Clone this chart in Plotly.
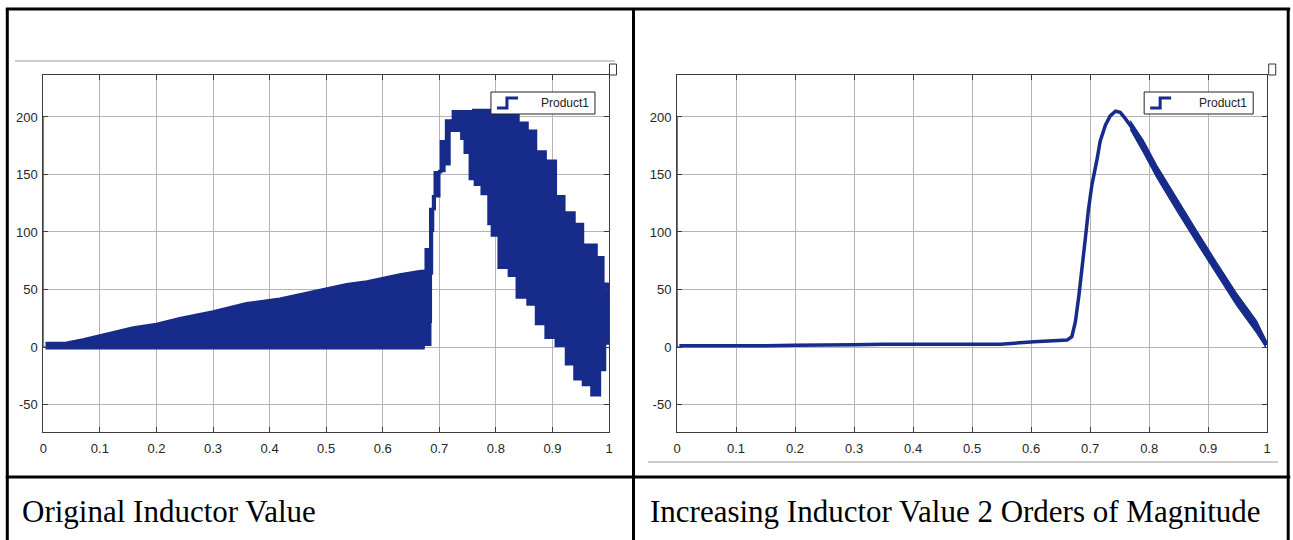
import plotly.graph_objects as go

x_ticks = [0, 0.1, 0.2, 0.3, 0.4, 0.5, 0.6, 0.7, 0.8, 0.9, 1]
x_labels = ["0", "0.1", "0.2", "0.3", "0.4", "0.5", "0.6", "0.7", "0.8", "0.9", "1"]
y_ticks = [-50, 0, 50, 100, 150, 200]
y_labels = ["-50", "0", "50", "100", "150", "200"]

# start-up transient at t = 0 (same in both runs)
init_t = [0, 0, 0.004]
init_v = [200, 0, 0]

# original inductor value: envelope of the switching ripple, before the jump
ramp_t = [0.004, 0.041, 0.070, 0.100, 0.159, 0.200, 0.241, 0.300, 0.359, 0.418,
          0.477, 0.536, 0.572, 0.630, 0.667, 0.672]
ramp_hi = [3.4, 3.7, 6.5, 10, 17, 20, 25, 31, 38, 42,
           48, 54.5, 57, 63, 66, 66]
ramp_lo = [-1, -1, -1, -1, -1, -1, -1, -1, -1, -1,
           -1, -1, -1, -1, -1, -1]

# ... and after the jump
orig_hi_t = [0.672, 0.676, 0.684, 0.692, 0.703, 0.712, 0.724, 0.760, 0.793, 0.823,
             0.840, 0.856, 0.871, 0.888, 0.906, 0.921, 0.939, 0.954, 0.978, 0.990,
             1.0]
orig_hi = [66, 85, 120, 152, 179, 197, 205, 206, 205, 202,
           195, 188, 170, 162, 131, 117, 107, 89, 78, 55,
           50]
orig_lo_t = [0.672, 0.684, 0.685, 0.687, 0.689, 0.700, 0.709, 0.718, 0.739, 0.745,
             0.754, 0.763, 0.775, 0.787, 0.793, 0.805, 0.823, 0.837, 0.856, 0.871,
             0.888, 0.906, 0.924, 0.939, 0.954, 0.969, 0.984, 0.993, 1.0]
orig_lo = [-1, 2, 22, 64, 101, 131, 153, 159, 188, 181,
           169, 146, 141, 133, 107, 97, 69, 62, 43, 37,
           20, 8, 1, -15, -28, -33, -42, -20, 3]

# inductor x100: smooth response
new_t = [0.004, 0.05, 0.10, 0.15, 0.20, 0.25, 0.30, 0.35, 0.40, 0.45,
         0.50, 0.548, 0.605, 0.64, 0.661, 0.669, 0.675, 0.681, 0.686, 0.692,
         0.697, 0.703, 0.712, 0.717, 0.726, 0.734, 0.743, 0.751, 0.759, 0.768,
         0.779, 0.790, 0.802, 0.813, 0.830, 0.847, 0.864, 0.881, 0.897, 0.914,
         0.931, 0.948, 0.965, 0.982, 0.993, 0.999, 1.0]
new_v = [1, 1, 0.5, 1, 1.5, 1.5, 2, 2.5, 2.5, 3,
         3, 2.5, 4.5, 5, 6, 9, 22, 45, 71, 95,
         119, 141, 164, 179, 193, 201, 205, 204, 199, 193,
         185, 175, 164, 153, 138, 124, 109, 96, 83, 69,
         56, 42, 29, 18, 9, 3, 2]
# ripple band on the falling edge
rip_t = [0.768, 0.790, 0.813, 0.847, 0.881, 0.914, 0.948, 0.982, 0.997]
rip_hi = [197, 180, 158, 129, 101, 74, 47, 23, 7]
rip_lo = [189, 169, 147, 118, 90, 63, 36, 12, 0]

captions = ["Original Inductor Value", "Increasing Inductor Value 2 Orders of Magnitude"]
legend_name = "Product1"

BLUE = "#172B8A"
W, H = 1293, 540
SQUEEZE = 0.9935  # the capture narrows the page slightly around its centre


def px(x):
    return (W / 2 + (x - W / 2) / SQUEEZE) / W


def py(y):
    return 1 - y / H


fig = go.Figure()

# left panel
fig.add_trace(go.Scatter(x=ramp_t + ramp_t[::-1], y=ramp_hi + ramp_lo[::-1],
                         fill="toself", fillcolor=BLUE, mode="lines",
                         line=dict(color=BLUE, width=2.5), xaxis="x", yaxis="y"))
fig.add_trace(go.Scatter(x=orig_hi_t + orig_lo_t[::-1], y=orig_hi + orig_lo[::-1],
                         fill="toself", fillcolor=BLUE, mode="lines",
                         line=dict(color=BLUE, width=2.5, shape="hv"), xaxis="x", yaxis="y"))
fig.add_trace(go.Scatter(x=init_t, y=init_v, mode="lines",
                         line=dict(color="#2444b4", width=1.5), xaxis="x", yaxis="y"))

# right panel
fig.add_trace(go.Scatter(x=rip_t + rip_t[::-1], y=rip_hi + rip_lo[::-1],
                         fill="toself", fillcolor=BLUE, mode="lines",
                         line=dict(color=BLUE, width=1), xaxis="x2", yaxis="y2"))
fig.add_trace(go.Scatter(x=new_t, y=new_v, mode="lines",
                         line=dict(color=BLUE, width=3.5), xaxis="x2", yaxis="y2"))
fig.add_trace(go.Scatter(x=init_t, y=init_v, mode="lines",
                         line=dict(color="#2444b4", width=1.5), xaxis="x2", yaxis="y2"))

tick_font = dict(family="Liberation Sans Narrow, Liberation Sans, Arial", size=13, color="#262626")
axis_common = dict(showgrid=True, gridcolor="#b4b4b4", gridwidth=1, zeroline=False,
                   showline=True, linecolor="#3c3c3c", linewidth=1, mirror="ticks",
                   ticks="inside", ticklen=5, tickcolor="#3c3c3c", tickfont=tick_font)
y_dom = [py(432), py(75)]

fig.update_layout(
    width=W, height=H, showlegend=False,
    paper_bgcolor="white", plot_bgcolor="white",
    margin=dict(l=0, r=0, t=0, b=0),
    xaxis=dict(domain=[px(43.5), px(609)], range=[0, 1], anchor="y",
               tickvals=x_ticks, ticktext=x_labels, ticklabelstandoff=4, **axis_common),
    yaxis=dict(domain=y_dom, range=[-73.9, 236.5], anchor="x",
               tickvals=y_ticks, ticktext=y_labels, ticklabelstandoff=2, **axis_common),
    xaxis2=dict(domain=[px(677), px(1267)], range=[0, 1], anchor="y2",
                tickvals=x_ticks, ticktext=x_labels, ticklabelstandoff=4, **axis_common),
    yaxis2=dict(domain=y_dom, range=[-73.9, 236.5], anchor="x2",
                tickvals=y_ticks, ticktext=y_labels, ticklabelstandoff=2, **axis_common),
)

shapes = []
# table borders
for x0, y0, x1, y1 in [(6, 9, 1290, 9), (7.5, 9, 7.5, 540), (633.5, 9, 633.5, 540),
                       (1288, 9, 1288, 540), (6, 477, 1290, 477)]:
    shapes.append(dict(type="line", xref="paper", yref="paper",
                       x0=px(x0), y0=py(y0), x1=px(x1), y1=py(y1),
                       line=dict(color="black", width=3)))
# thin grey rules from the scope windows
shapes.append(dict(type="line", xref="paper", yref="paper", x0=px(15), x1=px(615),
                   y0=py(61), y1=py(61), line=dict(color="#9a9a9a", width=1)))
shapes.append(dict(type="line", xref="paper", yref="paper", x0=px(648), x1=px(1278),
                   y0=py(462), y1=py(462), line=dict(color="#9a9a9a", width=1)))
# little scope-window buttons
for bx in (609.5, 1268.5):
    shapes.append(dict(type="rect", xref="paper", yref="paper", x0=px(bx), x1=px(bx + 7),
                       y0=py(75), y1=py(64), line=dict(color="#333", width=1),
                       fillcolor="white"))

annotations = []
# legends drawn like the scope legend (step icon)
for lx0, lx1 in ((491, 595), (1144, 1253)):
    shapes.append(dict(type="rect", xref="paper", yref="paper", x0=px(lx0), x1=px(lx1),
                       y0=py(114), y1=py(92), line=dict(color="#222", width=1),
                       fillcolor="white"))
    ix = lx0 + 6
    path = "M {} {} L {} {} L {} {} L {} {}".format(
        px(ix), py(108), px(ix + 10), py(108), px(ix + 10), py(98), px(ix + 21), py(98))
    shapes.append(dict(type="path", xref="paper", yref="paper", path=path,
                       line=dict(color=BLUE, width=3)))
    annotations.append(dict(x=px(lx1 - 4), y=py(103.5), xref="paper", yref="paper",
                            text=legend_name, showarrow=False, xanchor="right",
                            yanchor="middle",
                            font=dict(family="Liberation Sans Narrow, Liberation Sans, Arial",
                                      size=12, color="#222")))

# captions
for cx, txt in ((20, captions[0]), (648, captions[1])):
    annotations.append(dict(x=px(cx), y=py(511), xref="paper", yref="paper", text=txt,
                            showarrow=False, xanchor="left", yanchor="middle",
                            font=dict(family="Liberation Serif, DejaVu Serif, serif",
                                      size=31, color="black")))

fig.update_layout(shapes=shapes, annotations=annotations)

fig.write_html("out.html", config={"displayModeBar": False},
               post_script="document.body.style.margin='0';document.body.style.overflow='hidden';")
